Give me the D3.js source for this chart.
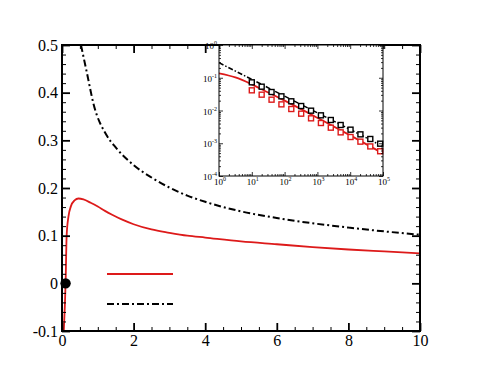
<!DOCTYPE html>
<html>
<head>
<meta charset="utf-8">
<script src="https://cdn.jsdelivr.net/npm/d3@7"></script>
<style>
  body { margin: 0; background: #fff; }
  svg text { font-family: "Liberation Serif", "Times New Roman", serif; fill: #000; }
</style>
</head>
<body>
<div id="chart"></div>
<script>
// Main plot data
const redX = [0.05, 0.1, 0.13, 0.18, 0.25, 0.35, 0.46, 0.6, 0.8, 1.0, 1.2, 1.4, 1.7, 2.0, 2.5, 3.0, 3.5, 4, 5, 6, 7, 8, 9, 10];
const redY = [-0.1, 0.0, 0.1, 0.14, 0.162, 0.174, 0.178, 0.176, 0.169, 0.161, 0.152, 0.144, 0.133, 0.124, 0.113, 0.106, 0.1, 0.096, 0.088, 0.082, 0.076, 0.071, 0.067, 0.063];
const blackX = [0.53, 0.7, 0.875, 1.25, 1.5, 2.0, 2.5, 3.0, 3.5, 4, 5, 6, 7, 8, 9, 10];
const blackY = [0.5, 0.44, 0.378, 0.31, 0.285, 0.248, 0.222, 0.201, 0.184, 0.171, 0.151, 0.137, 0.126, 0.117, 0.109, 0.102];
const dotPoint = [0.1, 0];

const xTicks = [0, 2, 4, 6, 8, 10];
const yTicks = [-0.1, 0, 0.1, 0.2, 0.3, 0.4, 0.5];
const yTickLabels = ["-0.1", "0", "0.1", "0.2", "0.3", "0.4", "0.5"];

// Inset data (log-log)
const insetRedX = [1, 3.16, 10, 31.6, 100, 1000, 10000, 100000];
const insetRedY = [0.136, 0.102, 0.063, 0.0355, 0.020, 0.0060, 0.00174, 0.00049];
const insetBlackX = [1, 10, 100, 1000, 10000, 100000];
const insetBlackY = [0.288, 0.089, 0.0275, 0.0085, 0.00263, 0.00079];
const squareX = [10, 20, 40, 80, 160, 320, 640, 1280, 2560, 5120, 10240, 20480, 40960, 81920];
const squareBlackY = [0.0725, 0.0534, 0.0367, 0.0271, 0.0191, 0.0137, 0.00988, 0.00712, 0.00513, 0.00361, 0.0026, 0.00187, 0.00135, 0.00097];
const squareRedY = [0.0413, 0.0304, 0.0214, 0.0154, 0.0111, 0.008, 0.00577, 0.00415, 0.00299, 0.00215, 0.00155, 0.00112, 0.0008, 0.00057];
const insetXExp = [0, 1, 2, 3, 4, 5];
const insetYExp = [0, -1, -2, -3, -4];

const RED = "#dd1a1a";
const FONT = "Liberation Serif, Times New Roman, serif";
const W = 478, H = 373;

const svg = d3.select("#chart").append("svg")
    .attr("width", W).attr("height", H);

// ---- main plot ----
const x = d3.scaleLinear().domain([0, 10]).range([62, 420]);
const y = d3.scaleLinear().domain([-0.1, 0.5]).range([331, 45]);

svg.append("clipPath").attr("id", "mainClip")
    .append("rect").attr("x", 62).attr("y", 45).attr("width", 358).attr("height", 286);

const line = d3.line().x(d => x(d[0])).y(d => y(d[1])).curve(d3.curveMonotoneX);

svg.append("path")
    .datum(d3.zip(blackX, blackY))
    .attr("clip-path", "url(#mainClip)")
    .attr("fill", "none").attr("stroke", "#000").attr("stroke-width", 2)
    .attr("stroke-dasharray", "7,3,2,3")
    .attr("d", line);

svg.append("path")
    .datum(d3.zip(redX, redY))
    .attr("clip-path", "url(#mainClip)")
    .attr("fill", "none").attr("stroke", RED).attr("stroke-width", 1.8)
    .attr("d", line);

// axes with inward ticks on all four sides
const xMinor = d3.range(0, 10.01, 0.5).filter(v => v % 2 !== 0);
const yMinor = d3.range(-0.1, 0.5001, 0.02).filter(v => Math.abs(v * 10 - Math.round(v * 10)) > 1e-6);

function addAxis(axis, tx, ty) {
    return svg.append("g").attr("transform", `translate(${tx},${ty})`).call(axis)
        .attr("font-family", FONT)
        .call(g => g.select(".domain").remove());
}
// bottom
addAxis(d3.axisBottom(x).tickValues(xTicks).tickSize(-8).tickFormat(d3.format("d")), 0, 331)
    .call(g => g.selectAll("line").attr("stroke-width", 1.8))
    .call(g => g.selectAll("text").attr("font-size", 16).attr("dy", "0").attr("y", 15));
addAxis(d3.axisBottom(x).tickValues(xMinor).tickSize(-4).tickFormat(""), 0, 331)
    .call(g => g.selectAll("line").attr("stroke-width", 1));
// top
addAxis(d3.axisTop(x).tickValues(xTicks).tickSize(-8).tickFormat(""), 0, 45)
    .call(g => g.selectAll("line").attr("stroke-width", 1.8));
addAxis(d3.axisTop(x).tickValues(xMinor).tickSize(-4).tickFormat(""), 0, 45)
    .call(g => g.selectAll("line").attr("stroke-width", 1));
// left
addAxis(d3.axisLeft(y).tickValues(yTicks).tickSize(-8).tickFormat((d, i) => yTickLabels[i]), 62, 0)
    .call(g => g.selectAll("line").attr("stroke-width", 1.8))
    .call(g => g.selectAll("text").attr("font-size", 16).attr("x", -4).attr("dy", "0.33em"));
addAxis(d3.axisLeft(y).tickValues(yMinor).tickSize(-4).tickFormat(""), 62, 0)
    .call(g => g.selectAll("line").attr("stroke-width", 1));
// right
addAxis(d3.axisRight(y).tickValues(yTicks).tickSize(-8).tickFormat(""), 420, 0)
    .call(g => g.selectAll("line").attr("stroke-width", 1.8));
addAxis(d3.axisRight(y).tickValues(yMinor).tickSize(-4).tickFormat(""), 420, 0)
    .call(g => g.selectAll("line").attr("stroke-width", 1));

svg.append("rect")
    .attr("x", 62).attr("y", 45).attr("width", 358).attr("height", 286)
    .attr("fill", "none").attr("stroke", "#000").attr("stroke-width", 2);

// marker at origin
svg.append("circle")
    .attr("cx", x(dotPoint[0])).attr("cy", y(dotPoint[1])).attr("r", 5.2)
    .attr("fill", "#000");

// legend samples (no text)
svg.append("line").attr("x1", 107).attr("x2", 173).attr("y1", 274).attr("y2", 274)
    .attr("stroke", RED).attr("stroke-width", 1.8);
svg.append("line").attr("x1", 107).attr("x2", 173).attr("y1", 304).attr("y2", 304)
    .attr("stroke", "#000").attr("stroke-width", 2).attr("stroke-dasharray", "7,3,2,3");

// ---- inset ----
const ix = d3.scaleLog().domain([1, 1e5]).range([219, 383]);
const iy = d3.scaleLog().domain([1e-4, 1]).range([176, 45]);

svg.append("rect").attr("x", 219).attr("y", 45).attr("width", 164).attr("height", 131).attr("fill", "#fff");
svg.append("clipPath").attr("id", "insetClip")
    .append("rect").attr("x", 219).attr("y", 45).attr("width", 164).attr("height", 131);

const iline = d3.line().x(d => ix(d[0])).y(d => iy(d[1])).curve(d3.curveMonotoneX);

svg.append("path").datum(d3.zip(insetBlackX, insetBlackY))
    .attr("clip-path", "url(#insetClip)")
    .attr("fill", "none").attr("stroke", "#000").attr("stroke-width", 1.5)
    .attr("stroke-dasharray", "5,2,1.5,2")
    .attr("d", iline);
svg.append("path").datum(d3.zip(insetRedX, insetRedY))
    .attr("clip-path", "url(#insetClip)")
    .attr("fill", "none").attr("stroke", RED).attr("stroke-width", 1.8)
    .attr("d", iline);

const sq = 5;
svg.append("g").selectAll("rect").data(d3.zip(squareX, squareBlackY)).join("rect")
    .attr("x", d => ix(d[0]) - sq / 2).attr("y", d => iy(d[1]) - sq / 2)
    .attr("width", sq).attr("height", sq)
    .attr("fill", "#fff").attr("stroke", "#000").attr("stroke-width", 1.4);
svg.append("g").selectAll("rect").data(d3.zip(squareX, squareRedY)).join("rect")
    .attr("x", d => ix(d[0]) - sq / 2).attr("y", d => iy(d[1]) - sq / 2)
    .attr("width", sq).attr("height", sq)
    .attr("fill", "#fff").attr("stroke", RED).attr("stroke-width", 1.4);

// inset ticks
const decX = insetXExp.map(e => Math.pow(10, e));
const decY = insetYExp.map(e => Math.pow(10, e));
const minorX = [], minorY = [];
for (let e = 0; e < 5; e++) for (let k = 2; k <= 9; k++) minorX.push(k * Math.pow(10, e));
for (let e = -4; e < 0; e++) for (let k = 2; k <= 9; k++) minorY.push(k * Math.pow(10, e));

function insetTicks(axisFn, scale, vals, size, tx, ty) {
    svg.append("g").attr("transform", `translate(${tx},${ty})`)
        .call(axisFn(scale).tickValues(vals).tickSize(-size).tickFormat(""))
        .call(g => g.select(".domain").remove())
        .call(g => g.selectAll("line").attr("stroke-width", 0.8));
}
insetTicks(d3.axisBottom, ix, decX, 4, 0, 176);
insetTicks(d3.axisBottom, ix, minorX, 2, 0, 176);
insetTicks(d3.axisTop, ix, decX, 4, 0, 45);
insetTicks(d3.axisTop, ix, minorX, 2, 0, 45);
insetTicks(d3.axisLeft, iy, decY, 4, 219, 0);
insetTicks(d3.axisLeft, iy, minorY, 2, 219, 0);
insetTicks(d3.axisRight, iy, decY, 4, 383, 0);
insetTicks(d3.axisRight, iy, minorY, 2, 383, 0);

svg.append("rect").attr("x", 219).attr("y", 45).attr("width", 164).attr("height", 131)
    .attr("fill", "none").attr("stroke", "#000").attr("stroke-width", 1);

// inset tick labels (10^n)
const xl = svg.append("g").attr("font-family", FONT).selectAll("text").data(insetXExp).join("text")
    .attr("x", e => ix(Math.pow(10, e)) + 1).attr("y", 185)
    .attr("text-anchor", "middle").attr("font-size", 9);
xl.append("tspan").text("10");
xl.append("tspan").attr("dy", -4).attr("font-size", 6).text(e => e);

const yl = svg.append("g").attr("font-family", FONT).selectAll("text").data(insetYExp).join("text")
    .attr("x", 217).attr("y", e => iy(Math.pow(10, e)) + 4)
    .attr("text-anchor", "end").attr("font-size", 9);
yl.append("tspan").text("10");
yl.append("tspan").attr("dy", -4).attr("font-size", 6).text(e => e);
</script>
</body>
</html>
